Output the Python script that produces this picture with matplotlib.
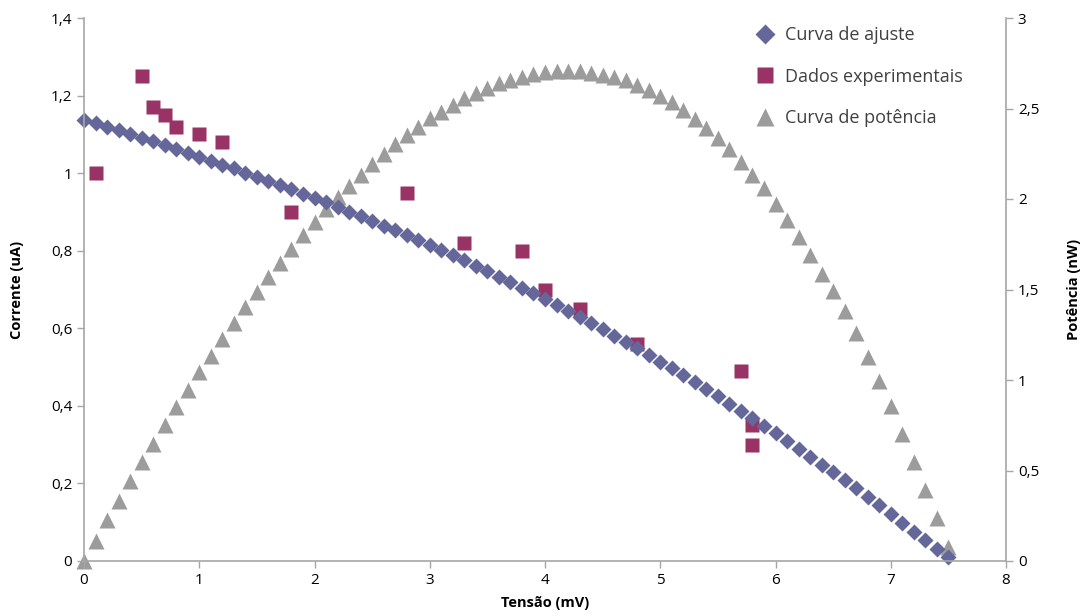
import matplotlib.pyplot as plt

# tensão (mV) of the fitted / power curves
tensao = [round(0.1 * i, 1) for i in range(76)]

# curva de ajuste, corrente (uA)
corrente_ajuste = [
    1.137, 1.128, 1.119, 1.110, 1.100, 1.091, 1.082, 1.072, 1.062, 1.052,
    1.042, 1.032, 1.022, 1.012, 1.001, 0.991, 0.980, 0.969, 0.958, 0.947,
    0.936, 0.925, 0.913, 0.901, 0.889, 0.877, 0.865, 0.853, 0.840, 0.827,
    0.815, 0.801, 0.788, 0.775, 0.761, 0.747, 0.733, 0.719, 0.704, 0.690,
    0.675, 0.660, 0.645, 0.629, 0.613, 0.597, 0.581, 0.565, 0.548, 0.531,
    0.514, 0.497, 0.479, 0.461, 0.443, 0.425, 0.406, 0.387, 0.368, 0.349,
    0.329, 0.309, 0.289, 0.268, 0.248, 0.229, 0.209, 0.188, 0.166, 0.144,
    0.122, 0.099, 0.076, 0.054, 0.032, 0.010,
]

# curva de potência (nW)
potencia = [
    0.000, 0.113, 0.224, 0.333, 0.440, 0.546, 0.649, 0.750, 0.850, 0.947,
    1.042, 1.135, 1.226, 1.316, 1.401, 1.487, 1.568, 1.647, 1.724, 1.799,
    1.872, 1.943, 2.009, 2.072, 2.134, 2.193, 2.249, 2.303, 2.352, 2.398,
    2.445, 2.483, 2.522, 2.558, 2.587, 2.615, 2.639, 2.660, 2.675, 2.691,
    2.700, 2.706, 2.709, 2.705, 2.697, 2.687, 2.673, 2.656, 2.630, 2.602,
    2.570, 2.535, 2.491, 2.443, 2.392, 2.338, 2.274, 2.206, 2.134, 2.059,
    1.974, 1.885, 1.792, 1.688, 1.587, 1.489, 1.379, 1.260, 1.129, 0.994,
    0.854, 0.703, 0.547, 0.394, 0.237, 0.075,
]

# dados experimentais
tensao_exp = [0.1, 0.5, 0.6, 0.7, 0.8, 1.0, 1.2, 1.8, 2.8, 3.3, 3.8, 4.0, 4.3, 4.8, 5.7, 5.8, 5.8]
corrente_exp = [1.00, 1.25, 1.17, 1.15, 1.12, 1.10, 1.08, 0.90, 0.95, 0.82, 0.80, 0.70, 0.65, 0.56, 0.49, 0.35, 0.30]

x_ticks = [0, 1, 2, 3, 4, 5, 6, 7, 8]
y_ticks = [0, 0.2, 0.4, 0.6, 0.8, 1.0, 1.2, 1.4]
y_labels = ['0', '0,2', '0,4', '0,6', '0,8', '1', '1,2', '1,4']
y2_ticks = [0, 0.5, 1, 1.5, 2, 2.5, 3]
y2_labels = ['0', '0,5', '1', '1,5', '2', '2,5', '3']

plt.rcParams['font.family'] = ['Open Sans', 'DejaVu Sans']

fig = plt.figure(figsize=(10.86, 6.16), dpi=100)
ax = fig.add_axes([84 / 1086, 55 / 616, 922 / 1086, 543 / 616])
ax2 = ax.twinx()
ax.set_zorder(ax2.get_zorder() + 1)
ax.patch.set_visible(False)

c_aj = '#65679B'
c_exp = '#993366'
c_pot = '#9C9C9C'
grey = '#A6A6A6'

h3, = ax2.plot(tensao, potencia, ls='none', marker='^', ms=11, color=c_pot,
               mec='none', clip_on=False, label='Curva de potência')
h2, = ax.plot(tensao_exp, corrente_exp, ls='none', marker='s', ms=10, color=c_exp,
              mec='none', clip_on=False, label='Dados experimentais')
h1, = ax.plot(tensao, corrente_ajuste, ls='none', marker='D', ms=8.5, color=c_aj,
              mec='none', clip_on=False, label='Curva de ajuste')

ax.set_xlim(0, 8)
ax.set_ylim(0, 1.4)
ax2.set_ylim(0, 3)
ax.set_xticks(x_ticks)
ax.set_xticklabels([str(t) for t in x_ticks])
ax.set_yticks(y_ticks)
ax.set_yticklabels(y_labels)
ax2.set_yticks(y2_ticks)
ax2.set_yticklabels(y2_labels)

for a in (ax, ax2):
    a.spines['top'].set_visible(False)
    for s in ('left', 'right', 'bottom'):
        a.spines[s].set_color(grey)
        a.spines[s].set_linewidth(1.2)
    a.tick_params(colors=grey, labelcolor='black', labelsize=11, length=5, width=1)
ax.spines['right'].set_visible(False)
ax2.spines['left'].set_visible(False)
ax2.spines['bottom'].set_visible(False)

ax.set_xlabel('Tensão (mV)', fontsize=10.5, fontweight='bold', labelpad=6)
ax.set_ylabel('Corrente (uA)', fontsize=10.5, fontweight='bold', labelpad=19)
ax2.set_ylabel('Potência (nW)', fontsize=10.5, fontweight='bold', labelpad=20)

fig.legend(handles=[h1, h2, h3], loc='upper left', bbox_to_anchor=(738 / 1086, 1 - 10 / 616),
           frameon=False, fontsize=13, labelspacing=1.3, handletextpad=0.5,
           handlelength=1.2, markerscale=1.2, labelcolor='#404040')

fig.savefig('out.png', dpi=100)
